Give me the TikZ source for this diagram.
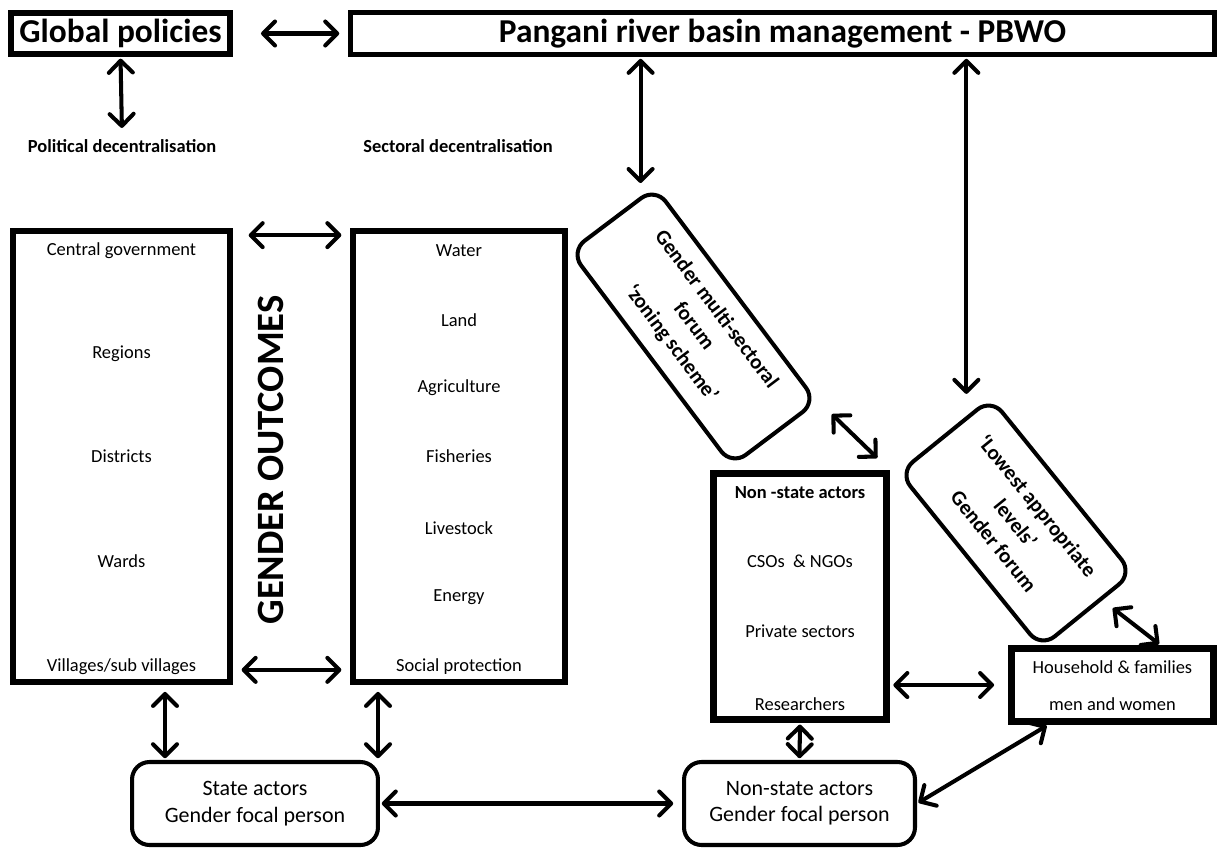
\documentclass[tikz,border=0pt]{standalone}
\usepackage{fontspec}
\setmainfont{Carlito}
\usetikzlibrary{arrows.meta,positioning}

\tikzset{
	box/.style={draw, line width=3.3pt, align=center, inner sep=0pt},
	rbox/.style={draw, line width=2.3pt, rounded corners=0.35cm, align=center, inner sep=0pt},
	item/.style={font=\fontsize{10.5}{12}\selectfont},
	link/.style={<->, line width=2.3pt, line cap=round,
		>={Straight Barb[length=2.4mm,width=4.8mm,line cap=round,line join=round]},
		shorten <=1pt, shorten >=1pt},
}

\begin{document}
\begin{tikzpicture}[x=0.02cm,y=-0.02cm]
	\useasboundingbox (0,0) rectangle (1225,853);
	% top row
	\node (glob) [box, minimum width=4.38cm, minimum height=0.82cm,
		font=\fontsize{19}{22}\selectfont\bfseries] at (120.5,33.5) {Global policies};
	\node (pangani) [box, line width=2.9pt, minimum width=17.28cm, minimum height=0.84cm,
		font=\fontsize{19}{22}\selectfont\bfseries] at (782.5,33.5) {Pangani river basin management - PBWO};
	\node (poldec) [font=\fontsize{10.5}{12}\selectfont\bfseries] at (122,146) {Political decentralisation};
	\node (secdec) [font=\fontsize{10.5}{12}\selectfont\bfseries] at (458,146) {Sectoral decentralisation};

	% levels and sectors
	\node (levels) [box, minimum width=4.34cm, minimum height=9.02cm] at (121.5,456.5) {};
	\node (sectors) [box, minimum width=4.24cm, minimum height=9.02cm] at (459,456.5) {};
	\node (outcomes) [rotate=90, font=\fontsize{22}{26}\selectfont\bfseries] at (271,460) {GENDER OUTCOMES};

	\node (cg) [item] at (121.5,251) {Central government};
	\node (reg) [item] at (121.5,354) {Regions};
	\node (dis) [item] at (121.5,456) {Districts};
	\node (war) [item] at (121.5,561) {Wards};
	\node (vil) [item] at (121.5,667) {Villages/sub villages};

	\node (wat) [item] at (459,251) {Water};
	\node (lan) [item] at (459,320) {Land};
	\node (agr) [item] at (459,388) {Agriculture};
	\node (fis) [item] at (459,456) {Fisheries};
	\node (liv) [item] at (459,528) {Livestock};
	\node (ene) [item] at (459,597) {Energy};
	\node (soc) [item] at (459,667) {Social protection};

	% forums
	\node (forum) [rbox, rotate=-53, minimum width=5.36cm, minimum height=2.12cm,
		font=\fontsize{12}{16}\selectfont\bfseries] at (693.5,326.5)
		{Gender multi-sectoral\\forum\\‘zoning scheme’};
	\node (lowest) [rbox, rotate=-51, minimum width=4.5cm, minimum height=2.36cm,
		font=\fontsize{12}{16}\selectfont\bfseries] at (1016,523)
		{‘Lowest appropriate\\levels’\\Gender forum};

	% actors
	\node (nsa) [box, line width=3.8pt, minimum width=3.46cm, minimum height=4.92cm] at (800,596.5) {};
	\node (nsahead) [item, font=\fontsize{10.5}{12}\selectfont\bfseries] at (800,493) {Non -state actors};
	\node (cso) [item] at (800,561) {CSOs \ \& NGOs};
	\node (pri) [item] at (800,631) {Private sectors};
	\node (res) [item] at (800,704) {Researchers};

	\node (hh) [box, line width=3.8pt, minimum width=4.04cm, minimum height=1.46cm] at (1112.5,685) {};
	\node (hhfam) [item] at (1112.5,667) {Household \& families};
	\node (hhmw) [item] at (1112.5,704) {men and women};

	\node (state) [rbox, minimum width=4.92cm, minimum height=1.66cm,
		font=\fontsize{12.5}{15}\selectfont] at (255,803.5) {State actors\\Gender focal person};
	\node (nsf) [rbox, minimum width=4.62cm, minimum height=1.66cm,
		font=\fontsize{12.5}{15}\selectfont] at (799.5,803.5) {Non-state actors\\Gender focal person};

	% connectors
	\coordinate (fa) at ([shift={(-15,0)}]forum.north west);
	\coordinate (la) at ([shift={(-25,0)}]lowest.north west);
	\coordinate (ls) at ([shift={(35,0)}]state.north west);
	\coordinate (ss) at ([shift={(-2,0)}]state.north east);
	\draw[link, shorten <=16pt, shorten >=5pt] (glob.east) -- (pangani.west);
	\draw[link, shorten >=3pt] (glob.south) -- (poldec.north);
	\draw[link] (fa |- pangani.south) -- (fa);
	\draw[link] (la |- pangani.south) -- (la);
	\draw[link, shorten <=10pt, shorten >=10pt] (forum.north east) -- (nsa.north east);
	\draw[link, shorten <=2pt] ([shift={(22,-6)}]lowest.east) -- ([shift={(48,0)}]hh.north);
	\draw[link, shorten <=9pt, shorten >=5pt] ([shift={(0,7)}]levels.north east) -- ([shift={(0,7)}]sectors.north west);
	\draw[link, shorten <=5pt, shorten >=5pt] ([shift={(0,-15)}]levels.south east) -- ([shift={(0,-15)}]sectors.south west);
	\draw[link, shorten <=4pt] (ls |- levels.south) -- (ls);
	\draw[link, shorten <=4pt] (ss |- sectors.south) -- (ss);
	\draw[link, shorten <=1pt, shorten >=5pt] (state.east) -- (nsf.west);
	\draw[link] (nsa.south) -- (nsf.north);
	\draw[link, shorten <=2pt, shorten >=8pt] (nsa.east |- hh.west) -- (hh.west);
	\draw[link] ([shift={(40,0)}]hh.south west) -- (nsf.east);
\end{tikzpicture}
\end{document}
